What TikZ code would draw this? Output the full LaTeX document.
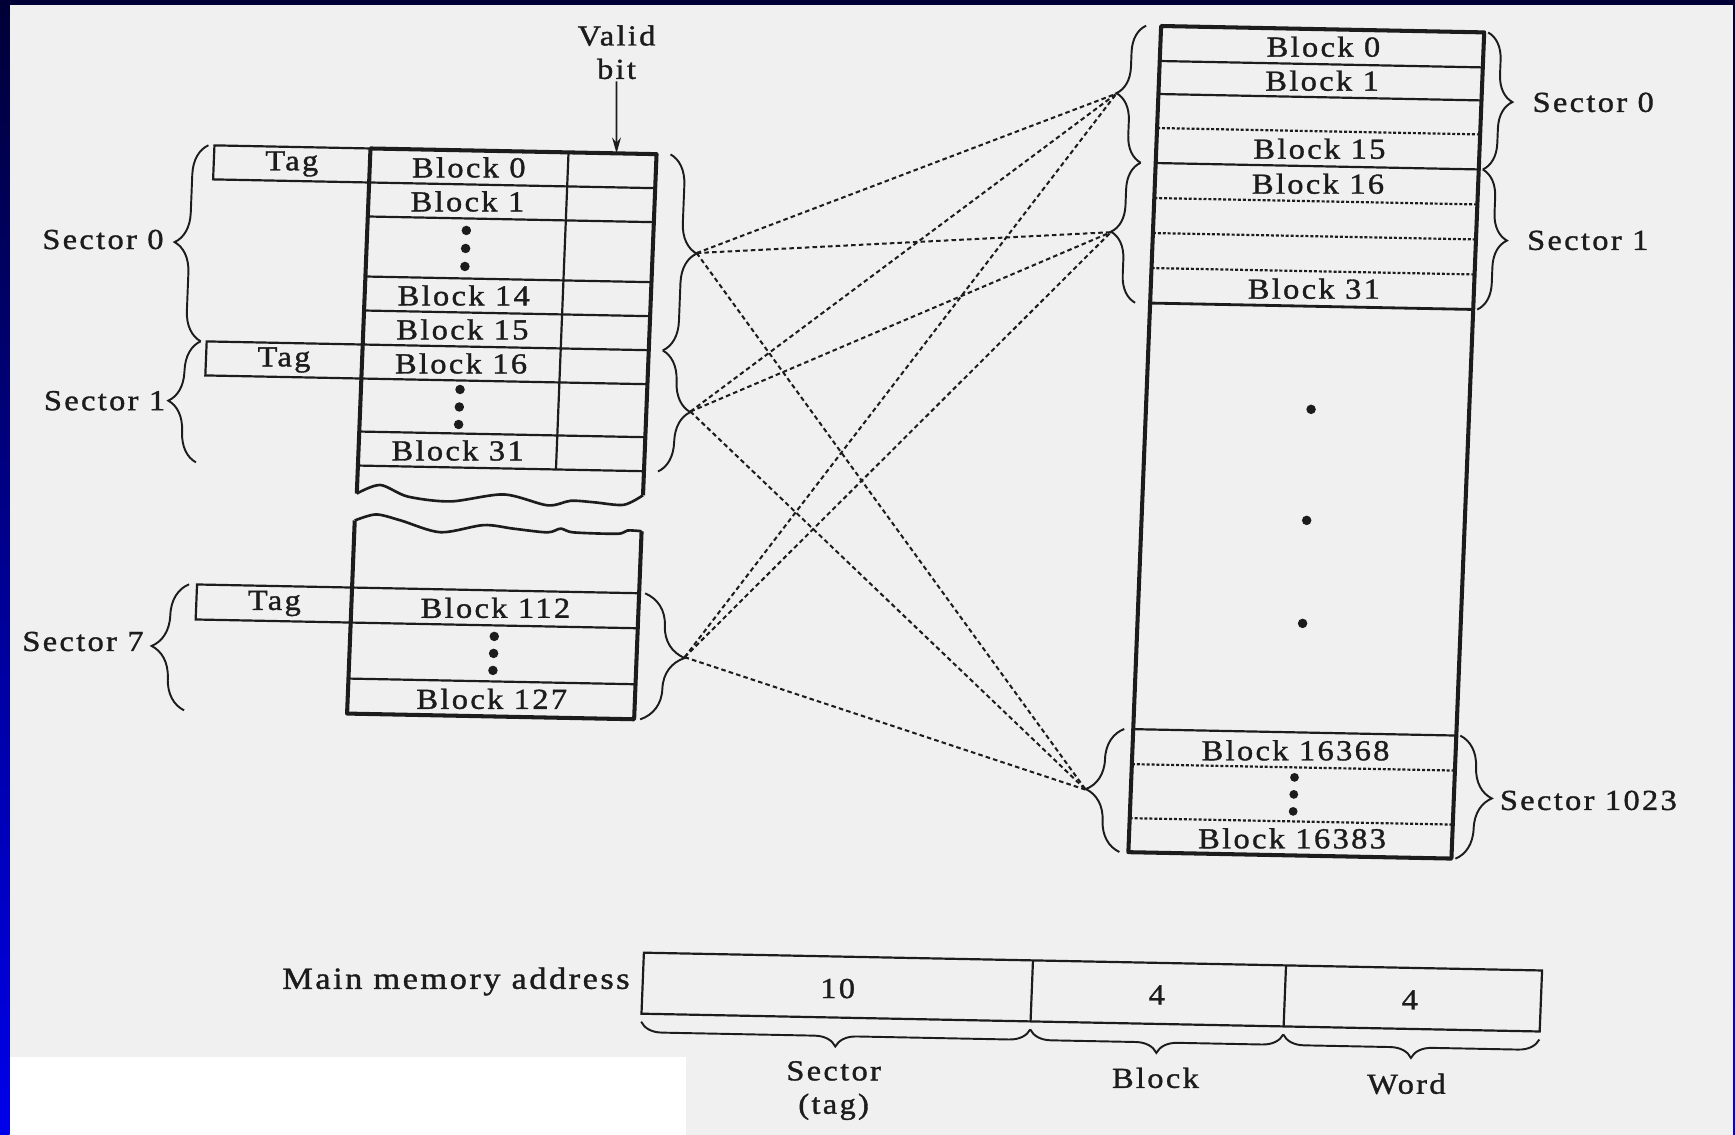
\documentclass[tikz,border=0pt]{standalone}
\usepackage{fontspec}
\setmainfont{Liberation Serif}[FakeStretch=1.12,LetterSpace=8,FakeBold=1.2]
\usetikzlibrary{arrows.meta, decorations.pathreplacing}

\definecolor{paper}{RGB}{240,240,240}
\definecolor{ink}{RGB}{28,28,28}
\definecolor{slidetop}{RGB}{0,0,55}
\definecolor{slidebot}{RGB}{0,0,235}

\tikzset{
    boxedge/.style={draw=ink, line width=2.3pt, line join=round},
    rowline/.style={draw=ink, line width=1.25pt},
    dotline/.style={draw=ink, line width=1.25pt, dash pattern=on 1.7pt off 1.1pt},
    bracebox/.style={draw=ink, line width=1.1pt, decorate, decoration={brace, amplitude=#1}},
    bracebox/.default=0.6cm,
    maplink/.style={draw=ink, line width=1.15pt, dash pattern=on 2.6pt off 1.8pt},
    lbl/.style={text=ink, font=\fontsize{16.5}{19}\selectfont, inner sep=1pt},
}

\begin{document}
\begin{tikzpicture}[x={(0.02cm,-0.0004cm)}, y={(-0.0008cm,-0.02cm)}]
    % slide and page
    \useasboundingbox (0cm,0cm) rectangle (34.7cm,-22.7cm);
    \fill[paper] (0cm,0cm) rectangle (34.7cm,-22.7cm);
    \fill[white] (0.18cm,-21.14cm) rectangle (13.72cm,-22.7cm);
    \shade[top color=slidetop, bottom color=slidebot] (0cm,0cm) rectangle (0.19cm,-22.7cm);
    \shade[top color=slidetop, bottom color=slidebot] (34.66cm,0cm) rectangle (34.7cm,-22.7cm);
    \fill[slidetop] (0cm,0cm) rectangle (34.7cm,-0.1cm);

    % cache: sectors 0 and 1
    \draw[boxedge] (376,486) -- (376,141) -- (662,141) -- (662,482);
    \draw[rowline] (574,141) -- (574,458);
    \foreach \y in {175,209,269,303,337,371,424,458}
        \draw[rowline] (376,\y) -- (662,\y);
    \draw[rowline] (376,141) -- (220,141) -- (220,175) -- (376,175);
    \draw[rowline] (376,337) -- (220,337) -- (220,371) -- (376,371);
    \draw[rowline, line width=1.5pt] plot[smooth] coordinates {(376,486) (399,477) (427,488) (470,492)
        (523,484) (567,494) (590,489) (613,490) (643,492) (662,482)};

    \node[lbl] (ctag0) at (298,158) {Tag};
    \node[lbl] (ctag1) at (298,354) {Tag};
    \foreach \n/\y in {0/158, 1/192, 14/286, 15/320, 16/354, 31/441}
        \node[lbl] (cblk\n) at (475,\y) {Block \n};
    \foreach \y in {221,239,257,380,397.5,415}
        \fill[ink] (475,\y) circle (2.7pt);

    % valid bit
    \node[lbl, align=center] (validlbl) at (618,40) {Valid\\bit};
    \coordinate (validtop) at (622,141);
    \draw[ink, line width=1pt, -{Stealth[length=9pt,width=5pt]}] (validlbl.south) -- (validtop);

    % cache: sector 7
    \draw[boxedge] (375,513) -- (375,706) -- (662,706) -- (662,518);
    \draw[rowline, line width=1.5pt] plot[smooth] coordinates {(375,513) (396,506.5) (421,512) (461,523)
        (504,515) (534,518) (568,521) (581,517) (594,520.5) (638,521) (648,517.5) (662,518)};
    \draw[rowline] (375,580) -- (220,580) -- (220,615) -- (375,615);
    \foreach \y in {580,615,671}
        \draw[rowline] (375,\y) -- (662,\y);
    \node[lbl] (ctag7) at (298,597.5) {Tag};
    \node[lbl] (cblk112) at (519,597.5) {Block 112};
    \node[lbl] (cblk127) at (519,688.5) {Block 127};
    \foreach \y in {626,643,660}
        \fill[ink] (519,\y) circle (2.7pt);

    % cache sector braces
    \draw[bracebox] (214,337) -- (214,141);
    \draw[bracebox] (214,458) -- (214,337);
    \draw[bracebox=0.7cm] (212,706) -- (212,580);
    \draw[bracebox] (676,141) -- (676,337);
    \draw[bracebox] (676,337) -- (676,458);
    \draw[bracebox=0.84cm] (668,580) -- (668,706);
    \node[lbl, anchor=east] (csec0lbl) at (175,236) {Sector 0};
    \node[lbl, anchor=east] (csec1lbl) at (183,397) {Sector 1};
    \node[lbl, anchor=east] (csec7lbl) at (171,638) {Sector 7};
    \coordinate (csec0) at (706,239);
    \coordinate (csec1) at (706,397.5);
    \coordinate (csec7) at (710,643);

    % main memory
    \draw[boxedge] (1161,3) -- (1484,3) -- (1484,829) -- (1161,829) -- cycle;
    \foreach \y in {38,71,140,706}
        \draw[rowline] (1161,\y) -- (1484,\y);
    \draw[rowline, line width=1.6pt] (1161,280) -- (1484,280);
    \foreach \y in {105,175,210,245,741,795}
        \draw[dotline] (1161,\y) -- (1484,\y);
    \foreach \n/\y in {0/20.5, 1/54.5, 15/122.5, 16/157.5, 31/262.5, 16368/724, 16383/812}
        \node[lbl] (mblk\n) at (1324,\y) {Block \n};
    \foreach \y in {383,494,597}
        \fill[ink] (1326,\y) circle (2.7pt);
    \foreach \y in {751,768,785}
        \fill[ink] (1324,\y) circle (2.5pt);

    % main memory sector braces
    \draw[bracebox=0.54cm] (1146,140) -- (1146,3);
    \draw[bracebox=0.54cm] (1146,280) -- (1146,140);
    \draw[bracebox=0.72cm] (1152,829) -- (1152,706);
    \draw[bracebox=0.54cm] (1488,3) -- (1488,140);
    \draw[bracebox=0.54cm] (1488,140) -- (1488,280);
    \draw[bracebox=0.68cm] (1488,706) -- (1488,829);
    \node[lbl, anchor=west] (msec0lbl) at (1533,72) {Sector 0};
    \node[lbl, anchor=west] (msec1lbl) at (1533,210) {Sector 1};
    \node[lbl, anchor=west] (msec1023lbl) at (1528,770) {Sector 1023};
    \coordinate (msec0) at (1119,71.5);
    \coordinate (msec1) at (1119,210);
    \coordinate (msec1023) at (1116,767.5);

    % any cache sector takes any memory sector
    \foreach \c in {csec0,csec1,csec7}
        \foreach \m in {msec0,msec1,msec1023}
            \draw[maplink] (\c) -- (\m);

    % address format
    \draw[rowline] (681,939) -- (1579,939) -- (1579,1000) -- (681,1000) -- cycle;
    \draw[rowline] (1070,939) -- (1070,1000);
    \draw[rowline] (1323,939) -- (1323,1000);
    \node[lbl, anchor=east, font=\fontsize{17.5}{20}\selectfont] (addrlbl) at (670,968) {Main memory address};
    \node[lbl] (fsector) at (876,971) {10};
    \node[lbl] (fblock) at (1195,971) {4};
    \node[lbl] (fword) at (1448,971) {4};
    \draw[bracebox=0.42cm] (1070,1008) -- (681,1008);
    \draw[bracebox=0.42cm] (1323,1008) -- (1070,1008);
    \draw[bracebox=0.42cm] (1579,1008) -- (1323,1008);
    \node[lbl, align=center] (tsector) at (876,1073) {Sector\\(tag)};
    \node[lbl] (tblock) at (1197,1054) {Block};
    \node[lbl] (tword) at (1448,1055) {Word};
\end{tikzpicture}
\end{document}
